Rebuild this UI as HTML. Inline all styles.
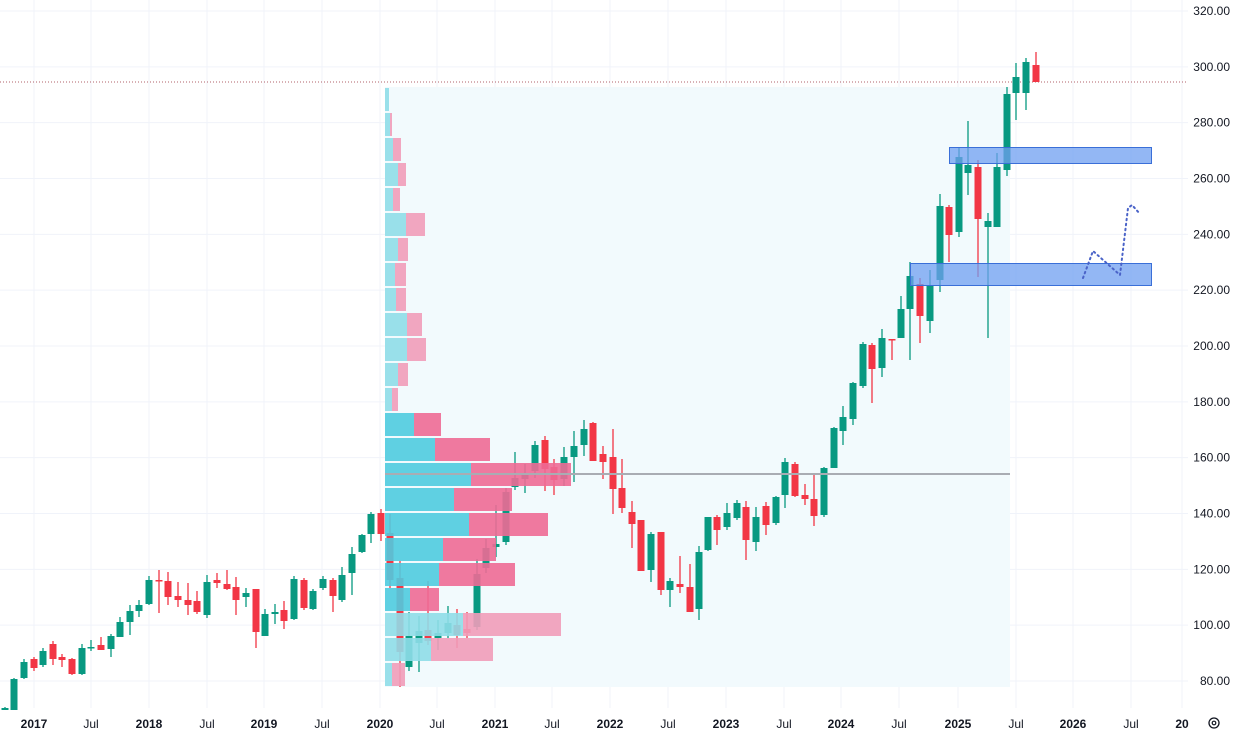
<!DOCTYPE html>
<html><head><meta charset="utf-8"><style>
html,body{margin:0;padding:0;background:#fff;width:1236px;height:734px;overflow:hidden}
svg{display:block;font-family:"Liberation Sans",sans-serif}
</style></head><body>
<svg id="c" width="1236" height="734" xmlns="http://www.w3.org/2000/svg">
<g id="grid" stroke="#f0f3fa" stroke-width="1"></g>
<rect x="385" y="87" width="625" height="600" fill="#f2fafd"/>
<line x1="0" y1="82" x2="1188" y2="82" stroke="#b0606a" stroke-width="1" stroke-dasharray="1,2"/>
<g id="cd"></g>
<g id="vp"></g>
<line x1="385" y1="474" x2="1010" y2="474" stroke="#a9acb3" stroke-width="2"/>
<rect x="949.5" y="147.5" width="202" height="16" fill="#6f9ff0" fill-opacity="0.75" stroke="#3a6fd8"/>
<rect x="910.5" y="263.5" width="241" height="22" fill="#6f9ff0" fill-opacity="0.75" stroke="#3a6fd8"/>
<polyline points="1083,278 1093,251 1120,275 1128,208 1132,205 1140,214" fill="none" stroke="#4a63c8" stroke-width="2" stroke-dasharray="1.5,3.5" stroke-linecap="round"/>
<g id="ax" font-size="12" fill="#131722"></g>
<circle cx="1214" cy="723" r="5" fill="none" stroke="#131722" stroke-width="1.3"/>
<circle cx="1214" cy="723" r="1.8" fill="none" stroke="#131722" stroke-width="1.2"/>
</svg>
<script>
var NS="http://www.w3.org/2000/svg";
function el(p,t,a,txt){var e=document.createElementNS(NS,t);for(var k in a)e.setAttribute(k,a[k]);if(txt)e.textContent=txt;document.getElementById(p).appendChild(e);return e;}
var prices=[320,300,280,260,240,220,200,180,160,140,120,100,80];
prices.forEach(function(v){var y=681-(v-80)*2.7917;el("grid","line",{x1:0,y1:y,x2:1188,y2:y});el("ax","text",{x:1230,y:y+4,"text-anchor":"end"},v.toFixed(2));});
var xl=[[34,"2017",1],[91,"Jul",0],[149,"2018",1],[207,"Jul",0],[264,"2019",1],[322,"Jul",0],[380,"2020",1],[437,"Jul",0],[495,"2021",1],[552,"Jul",0],[610,"2022",1],[668,"Jul",0],[726,"2023",1],[784,"Jul",0],[841,"2024",1],[899,"Jul",0],[958,"2025",1],[1016,"Jul",0],[1073,"2026",1],[1131,"Jul",0],[1182,"20",1]];
xl.forEach(function(a){el("grid","line",{x1:a[0],y1:0,x2:a[0],y2:708});el("ax","text",{x:a[0],y:728,"text-anchor":"middle","font-weight":a[2]?"bold":"normal"},a[1]);});
var C=[
[5,707,708,710,710,"g"],[14,678,679,710,710,"g"],[24,659,662,678,679,"g"],[34,657,659,668,671,"r"],[43,648,651,665,667,"g"],[53,641,644,659,665,"r"],[62,654,657,660,667,"r"],[72,658,659,674,675,"r"],[82,644,648,674,675,"g"],[91,640,647,648,651,"g"],[101,637,645,650,650,"r"],[111,634,636,649,657,"g"],[120,617,622,637,637,"g"],[130,605,611,622,635,"g"],[139,600,605,611,617,"g"],[149,576,580,604,605,"g"],[159,570,580,581,613,"r"],[168,572,581,597,605,"r"],[178,582,596,600,607,"r"],[188,583,600,605,615,"r"],[197,591,601,612,614,"r"],[207,575,582,615,618,"g"],[217,573,580,583,588,"r"],[227,570,584,589,590,"r"],[236,577,587,600,615,"r"],[246,588,593,597,607,"g"],[256,589,589,632,648,"r"],[265,609,614,636,636,"g"],[275,604,612,614,624,"g"],[284,601,610,621,629,"r"],[294,576,579,619,620,"g"],[304,578,580,608,610,"r"],[313,589,591,609,610,"g"],[323,576,579,588,590,"g"],[333,578,580,596,612,"r"],[342,567,575,600,602,"g"],[352,547,554,573,595,"g"],[362,534,535,552,553,"g"],[371,512,514,534,543,"g"],[381,509,513,534,541,"r"],
[390,514,533,580,588,"r"],[400,561,578,652,687,"r"],[409,612,636,667,671,"g"],[419,616,631,643,672,"g"],[428,581,630,641,645,"r"],[438,620,633,638,650,"g"],[448,606,623,633,638,"g"],[457,609,625,635,648,"r"],[467,612,629,633,638,"r"],[477,559,574,627,630,"g"],[486,539,548,568,573,"g"],[496,505,544,547,557,"g"],[506,488,492,542,545,"g"],[515,452,478,487,490,"g"],[525,464,475,479,493,"g"],[535,441,445,471,478,"g"],[545,436,440,469,491,"r"],[554,459,467,480,495,"r"],[564,447,457,479,486,"g"],[574,431,446,457,482,"g"],[584,420,429,445,456,"g"],[593,422,423,461,461,"r"],[603,446,454,462,479,"r"],[613,429,457,489,514,"r"],[622,459,488,508,513,"r"],[632,501,512,524,548,"r"],[641,520,520,571,571,"r"],[651,532,534,570,582,"g"],[661,532,532,590,595,"r"],[670,578,581,590,607,"g"],[680,556,584,587,593,"r"],[690,564,587,612,612,"r"],[699,546,552,609,620,"g"],
[708,517,517,550,551,"g"],[717,515,517,530,545,"r"],[727,503,513,527,530,"g"],[737,500,503,518,520,"g"],[746,501,507,540,560,"r"],[756,507,517,542,551,"g"],[766,502,506,525,535,"r"],[776,496,497,523,525,"g"],[785,458,462,495,508,"g"],[795,462,464,496,497,"r"],[805,484,495,499,505,"r"],[814,475,499,516,526,"r"],[824,467,468,515,517,"g"],[834,427,428,468,468,"g"],[843,406,417,431,445,"g"],[853,382,383,419,425,"g"],[863,342,344,386,388,"g"],[872,343,345,369,403,"r"],[882,329,338,368,377,"g"],[892,339,339,340,360,"r"],[901,296,309,338,338,"g"],[910,262,276,309,360,"g"],[920,278,284,316,343,"r"],[930,270,285,321,333,"g"],[940,194,206,280,292,"g"],[949,205,207,235,262,"r"],[959,148,157,232,237,"g"],[968,121,165,173,195,"g"],[978,160,167,219,277,"r"],[988,213,221,227,338,"g"],[997,153,167,227,227,"g"],[1007,87,94,170,176,"g"],[1016,63,77,93,120,"g"],[1026,58,62,93,110,"g"],[1036,52,65,82,82,"r"]];
C.forEach(function(c){var col=c[5]=="g"?"#089981":"#f23645";el("cd","line",{x1:c[0],y1:c[1],x2:c[0],y2:c[4],stroke:col,"stroke-width":1.3});el("cd","rect",{x:c[0]-3.5,y:c[2],width:7,height:Math.max(1.5,c[3]-c[2]),fill:col});});
var V=[[389,389],[390,392],[393,401],[398,406],[393,400],[406,425],[398,408],[395,406],[396,406],[407,422],[407,426],[398,408],[392,398],[414,441],[435,490],[471,571],[454,512],[469,548],[443,496],[439,515],[410,439],[463,561],[431,493],[392,405]];
V.forEach(function(v,i){var y=87+i*25;var hot=(i>=13&&i<=20);var cy=hot?"#4fcbdf":"#8fdde8",pk=hot?"#ee6a95":"#f19cb9";
el("vp","rect",{x:385,y:y+1,width:v[0]-385,height:23,fill:cy,"fill-opacity":0.9});
if(v[1]>v[0])el("vp","rect",{x:v[0],y:y+1,width:v[1]-v[0],height:23,fill:pk,"fill-opacity":0.9});});
</script>
</body></html>
